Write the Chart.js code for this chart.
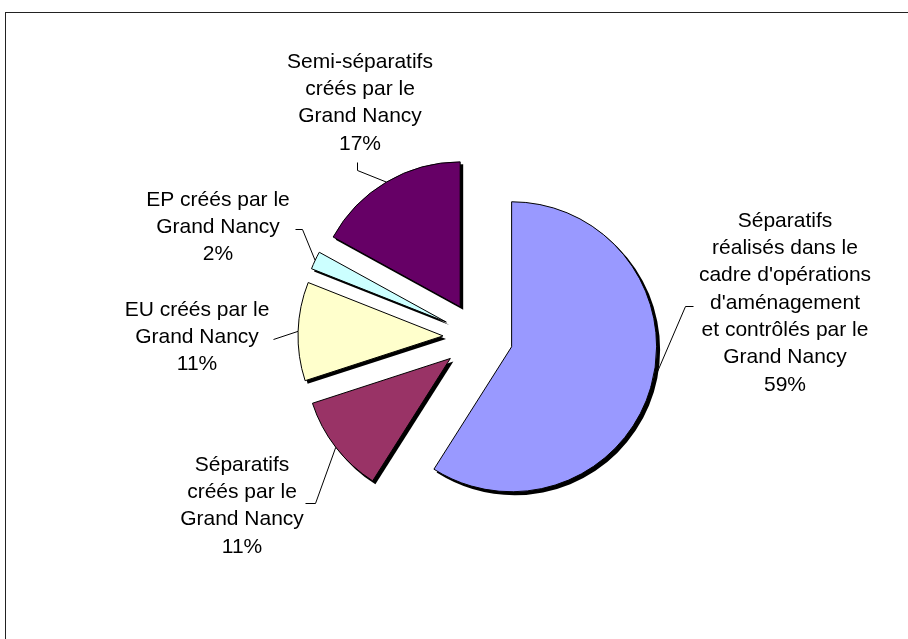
<!DOCTYPE html>
<html>
<head>
<meta charset="utf-8">
<script src="https://cdn.jsdelivr.net/npm/chart.js@4.4.0/dist/chart.umd.min.js"></script>
<style>
html,body{margin:0;padding:0;background:#fff;overflow:hidden}
#wrap{position:relative;width:908px;height:639px}
</style>
</head>
<body>
<div id="wrap"><canvas id="chart"></canvas></div>
<script>
// DATA
const categories = [
  ["Séparatifs","réalisés dans le","cadre d'opérations","d'aménagement","et contrôlés par le","Grand Nancy"],
  ["Séparatifs","créés par le","Grand Nancy"],
  ["EU créés par le","Grand Nancy"],
  ["EP créés par le","Grand Nancy"],
  ["Semi-séparatifs","créés par le","Grand Nancy"]
];
const values = [59, 11, 11, 2, 17];
const colors = ["#9999FF","#993366","#FFFFCC","#CCFFFF","#660066"];

// LAYOUT (label text centre, first line y, leader line points on the text side)
const labelPos = [
  {x:785, y:221, lead:[[693,306],[685,306]]},
  {x:242, y:465, lead:[[305,503],[315,503]]},
  {x:197, y:310, lead:[[273,339]]},
  {x:218, y:200, lead:[[295,229],[302,229]]},
  {x:360, y:62,  lead:[[357,162],[357,170]]}
];
const EXPLODE = 35, SHADOW = 3, LINE_H = 27.3;
const total = values.reduce((a,b)=>a+b,0);

function shift(a){
  const mid=(a.startAngle+a.endAngle)/2;
  return [Math.cos(mid)*EXPLODE, Math.sin(mid)*EXPLODE, mid];
}

const explodedPie = {
  id:'explodedPie',
  beforeDraw(chart){
    const ctx=chart.ctx;
    ctx.save();
    ctx.strokeStyle='#222';
    ctx.lineWidth=1;
    ctx.strokeRect(5.5,12.5,1000,1000);
    ctx.restore();
  },
  beforeDatasetDraw(chart,args){
    const ctx=chart.ctx;
    const arcs=chart.getDatasetMeta(args.index).data;
    // shadows
    arcs.forEach(a=>{
      const [dx,dy]=shift(a);
      const cx=a.x+dx+SHADOW, cy=a.y+dy+SHADOW;
      ctx.save();
      ctx.fillStyle='#000';
      ctx.beginPath();
      ctx.moveTo(cx,cy);
      ctx.arc(cx,cy,a.outerRadius+0.5,a.startAngle,a.endAngle);
      ctx.closePath();
      ctx.fill();
      ctx.restore();
    });
    // slices
    arcs.forEach(a=>{
      const [dx,dy]=shift(a);
      ctx.save();
      ctx.translate(dx,dy);
      a.draw(ctx);
      ctx.restore();
    });
    return false;
  },
  afterDraw(chart){
    const ctx=chart.ctx;
    const arcs=chart.getDatasetMeta(0).data;
    ctx.save();
    // leader lines
    ctx.strokeStyle='#000';
    ctx.lineWidth=1;
    arcs.forEach((a,i)=>{
      const [dx,dy,mid]=shift(a);
      const px=a.x+dx+Math.cos(mid)*a.outerRadius;
      const py=a.y+dy+Math.sin(mid)*a.outerRadius;
      const pts=labelPos[i].lead;
      ctx.beginPath();
      ctx.moveTo(pts[0][0]+0.5,pts[0][1]+0.5);
      for(let k=1;k<pts.length;k++) ctx.lineTo(pts[k][0]+0.5,pts[k][1]+0.5);
      ctx.lineTo(px,py);
      ctx.stroke();
    });
    // labels
    ctx.fillStyle='#000';
    ctx.font='21px "Liberation Sans", Arial, sans-serif';
    ctx.textAlign='center';
    ctx.textBaseline='middle';
    categories.forEach((lines,i)=>{
      const all=lines.concat([Math.round(values[i]/total*100)+'%']);
      all.forEach((t,k)=>ctx.fillText(t,labelPos[i].x,labelPos[i].y+k*LINE_H));
    });
    ctx.restore();
  }
};

new Chart(document.getElementById("chart"), {
  type:'pie',
  data:{
    labels:categories.map(l=>l.join(' ')),
    datasets:[{
      data:values,
      backgroundColor:colors,
      borderColor:'#000',
      borderWidth:1,
      radius:145
    }]
  },
  options:{
    responsive:true,
    maintainAspectRatio:false,
    animation:false,
    layout:{padding:{left:48,top:35,right:0,bottom:0}},
    plugins:{legend:{display:false},tooltip:{enabled:false}}
  },
  plugins:[explodedPie]
});
</script>
</body>
</html>
